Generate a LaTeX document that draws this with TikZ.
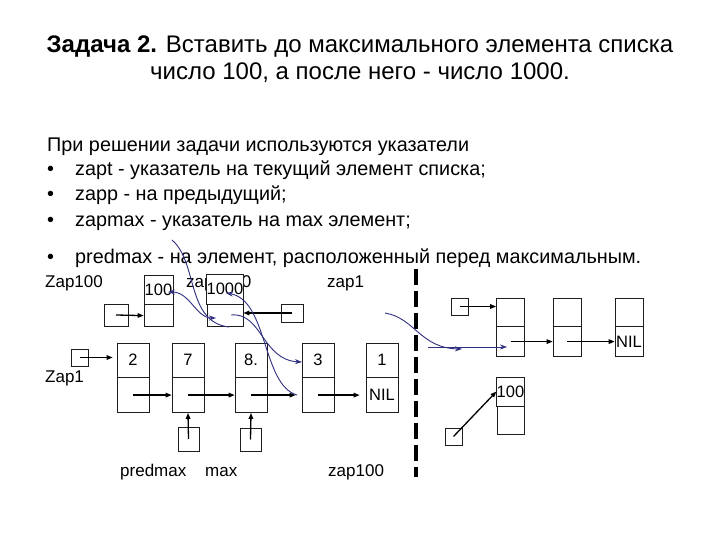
\documentclass[tikz,border=0pt]{standalone}
\usepackage{fontspec}
\setmainfont{Liberation Sans}
\usepackage{tikz}
\usetikzlibrary{arrows.meta, positioning}
\definecolor{ListNavy}{RGB}{48, 48, 128}
\definecolor{ListBorder}{RGB}{30, 30, 30}

\tikzset{
  cell/.style={draw=ListBorder, line width=0.6pt, fill=white, inner sep=0pt,
    font=\fontsize{16.5}{18}\selectfont},
  ptrbox/.style={draw=ListBorder, line width=0.6pt, fill=white, inner sep=0pt},
  ptr/.style={line width=1.3pt, -{Triangle[length=6pt,width=4.5pt]}},
  move/.style={ListNavy, line width=0.9pt},
  movetip/.style={move, -{Stealth[length=7pt,width=5pt]}},
  lbl/.style={font=\fontsize{17}{20}\selectfont, inner sep=0pt, anchor=base west},
  bodytext/.style={font=\fontsize{19.8}{22}\selectfont, inner sep=0pt, anchor=base west}
}

\begin{document}
\begin{tikzpicture}[x=1pt,y=-1pt]
  \path[use as bounding box] (0,0) rectangle (720,540);
  \fill[white] (0,0) rectangle (720,540);

  \node[font=\fontsize{24}{28}\selectfont, inner sep=0pt, anchor=base] (title1) at (360,53)
    {\textbf{Задача 2.} Вставить до максимального элемента списка};
  \node[font=\fontsize{24}{28}\selectfont, inner sep=0pt, anchor=base] (title2) at (360,80)
    {число 100, а после него - число 1000.};

  \node[bodytext] (intro) at (47,152) {При решении задачи используются указатели};
  \foreach \y/\txt [count=\i] in {176/{zapt - указатель на текущий элемент списка;},
      201/{zapp - на предыдущий;},
      226/{zapmax - указатель на max элемент;},
      263/{predmax - на элемент, расположенный перед максимальным.}}{
    \node[bodytext] (dot\i) at (47,\y) {•};
    \node[bodytext] (item\i) at (75,\y) {\txt};
  }

  \node[lbl] (lzap100) at (45,287) {Zap100};
  \node[lbl] (lzap1000) at (186,287) {zap1000};
  \node[lbl] (lzapone) at (327,287) {zap1};
  \node[lbl] (lzap1) at (45,382) {Zap1};
  \node[lbl] (lpred) at (120,476) {predmax};
  \node[lbl] (lmax) at (205,476) {max};
  \node[lbl] (lzapdown) at (328,476) {zap100};

  % lower list
  \foreach \n/\x/\v in {e2/133/2, e7/188/7, e8/251/8., e3/318/3, e1/382/1}{
    \node[cell, minimum width=32pt, minimum height=34pt] (\n t) at (\x,360) {\v};
    \node[cell, minimum width=32pt, minimum height=35pt, below=0pt of \n t] (\n b) {};
  }
  \node at (e1b) {\fontsize{16.5}{18}\selectfont NIL};

  % new elements
  \node[cell, minimum width=29pt, minimum height=29pt] (n100t) at (158.5,289.5) {100};
  \node[cell, minimum width=29pt, minimum height=22pt, below=0pt of n100t] (n100b) {};
  \node[cell, minimum width=36pt, minimum height=30pt] (n1000t) at (225,289) {1000};
  \node[cell, minimum width=36pt, minimum height=22pt, below=0pt of n1000t] (n1000b) {};

  % pointers
  \node[ptrbox, minimum width=24pt, minimum height=22pt] (pzap100) at (116,315) {};
  \node[ptrbox, minimum width=17pt, minimum height=17pt] (pzap1) at (79.5,357.5) {};
  \node[ptrbox, minimum width=22pt, minimum height=18pt] (pzapone) at (292,313) {};
  \node[ptrbox, minimum width=21pt, minimum height=24pt] (ppred) at (188.5,439) {};
  \node[ptrbox, minimum width=21pt, minimum height=23pt] (pmax) at (250.5,439.5) {};

  \draw[ptr] (pzap100.center) -- (n100b.west);
  \draw[ptr, shorten >=4pt] (pzap1.center) -- (pzap1.center -| e2t.west);
  \draw[ptr] (pzapone.center) -- (pzapone.center -| n1000b.east);
  \draw[ptr] (ppred.center) -- (e7b.south);
  \draw[ptr] (pmax.center) -- (e8b.south);
  \draw[ptr] (e2b.center) -- (e7b.west);
  \draw[ptr] (e7b.center) -- (e8b.west);
  \draw[ptr, shorten >=6pt] (e8b.center) -- (e3b.west);
  \draw[ptr, shorten >=6pt] (e3b.center) -- (e1b.west);

  % separator
  \node[inner sep=0pt] (septop) at (416,268) {};
  \node[inner sep=0pt] (sepbot) at (416,478) {};
  \draw[line width=3.5pt, dash pattern=on 16pt off 6pt] (septop) -- (sepbot);

  % right list
  \foreach \n/\x in {r1/510.5, r2/567, r3/629}{
    \node[cell, minimum width=28pt, minimum height=28pt] (\n t) at (\x,312) {};
    \node[cell, minimum width=28pt, minimum height=30pt, below=0pt of \n t] (\n b) {};
  }
  \node at (r3b) {\fontsize{16.5}{18}\selectfont NIL};
  \node[cell, minimum width=27pt, minimum height=29pt] (r100t) at (510.5,391.5) {100};
  \node[cell, minimum width=27pt, minimum height=28pt, below=0pt of r100t] (r100b) {};
  \node[ptrbox, minimum width=17pt, minimum height=17pt] (prtop) at (459.5,306.5) {};
  \node[ptrbox, minimum width=17pt, minimum height=17pt] (prbot) at (453.5,436.5) {};

  \draw[ptr] (prtop.center) -- (prtop.center -| r1t.west);
  \draw[ptr] (r1b.center) -- (r2b.west);
  \draw[ptr] (r2b.center) -- (r3b.west);
  \draw[ptr] (prbot.center) -- (r100t.west);

  % moves
  \coordinate (ca) at (172,240);
  \coordinate (cb) at (229,327);
  \coordinate (cc) at (168,292);
  \coordinate (cd) at (216,318);
  \coordinate (ce) at (231,315);
  \coordinate (cf) at (302,362);
  \coordinate (cg) at (297,395);
  \coordinate (ch) at (226,293);
  \coordinate (ci) at (385,313);
  \coordinate (cj) at (462,349);
  \coordinate (ck) at (428,347);
  \coordinate (cl) at (507,347);
  \draw[move] (ca) .. controls (198,262) and (186,322) .. (cb);
  \draw[movetip, {Stealth[length=7pt,width=5pt]}-{Stealth[length=7pt,width=5pt]}]
    (cc) .. controls (190,292) and (196,318) .. (cd);
  \draw[movetip] (ce) .. controls (262,312) and (262,360) .. (cf);
  \draw[movetip] (cg) .. controls (262,385) and (268,300) .. (ch);
  \draw[movetip] (ci) .. controls (415,318) and (420,348) .. (cj);
  \draw[movetip, line width=0.6pt] (ck) -- (cl);
\end{tikzpicture}
\end{document}
